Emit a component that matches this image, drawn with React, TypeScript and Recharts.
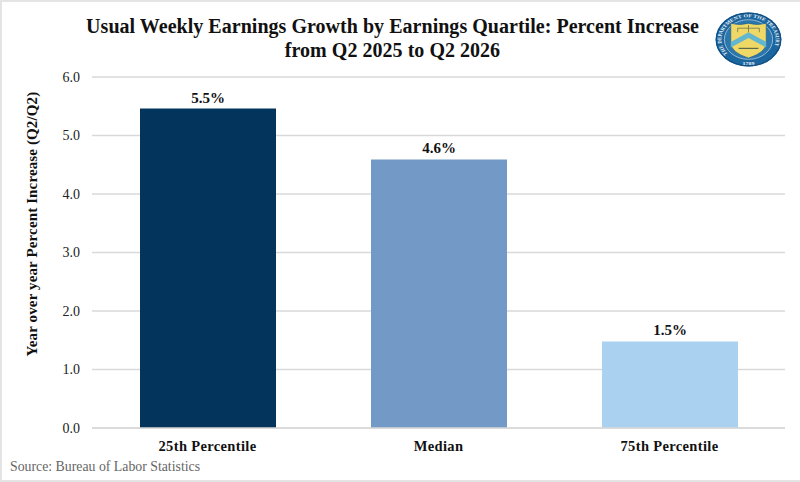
import { BarChart, Bar, Cell, CartesianGrid, LabelList, XAxis, YAxis } from "recharts";

const categories = ["25th Percentile", "Median", "75th Percentile"];
const growth = [5.46, 4.59, 1.48];
const growthLabels = ["5.5%", "4.6%", "1.5%"];
const barColors = ["#03345c", "#7399c6", "#abd1f0"];
const yTicks = [0, 1, 2, 3, 4, 5, 6];

const data = categories.map((name, i) => ({ name, growth: growth[i], label: growthLabels[i] }));

const serif = "'Liberation Serif', serif";

function TreasurySeal() {
    return (
        <svg width="67" height="55" viewBox="0 0 68 68" preserveAspectRatio="none" style={{ position: "absolute", left: 715, top: 11.5 }}>
            <defs>
                <path id="sealRing" d="M 12.9 51.7 A 27.5 27.5 0 1 1 55.1 51.7" />
            </defs>
            <circle cx="34" cy="34" r="33.5" fill="#1c66a0" />
            <circle cx="34" cy="34" r="32.5" fill="none" stroke="#114f82" strokeWidth="1.5" />
            <circle cx="34" cy="34" r="24.5" fill="#2a76ad" stroke="#d5e4ee" strokeWidth="0.7" />
            <text fontFamily={serif} fontSize="5.8" fontWeight="bold" fill="#e8f0f5" letterSpacing="0.1">
                <textPath href="#sealRing">THE DEPARTMENT OF THE TREASURY</textPath>
            </text>
            <path d="M 16 14 Q 25 17 34 14 Q 43 17 52 14 L 52 38 Q 52 50 34 57 Q 16 50 16 38 Z" fill="#f0d866" stroke="#21618f" strokeWidth="0.8" />
            <path d="M 16 37 L 34 25 L 52 37 L 52 44 L 34 32 L 16 44 Z" fill="#62b6cf" />
            <path d="M 23 20 H 45 M 34 16 V 25 M 23 20 V 25 M 45 20 V 25" stroke="#5a6a4a" strokeWidth="0.8" fill="none" />
            <path d="M 24 45 H 44" stroke="#5a6a4a" strokeWidth="1.5" fill="none" />
            <text x="34" y="65" textAnchor="middle" fontFamily={serif} fontSize="6" fontWeight="bold" fill="#e8f0f5">1789</text>
        </svg>
    );
}

export default function App() {
    return (
        <div style={{ position: "absolute", left: 0, top: 0, width: 800, height: 482, background: "#ffffff", overflow: "hidden", fontFamily: serif }}>
            <div style={{ position: "absolute", inset: 0, border: "2px solid #e4e4e4", borderRight: "none", boxSizing: "border-box" }} />
            <BarChart
                width={800}
                height={482}
                data={data}
                margin={{ top: 77, right: 15, bottom: 0, left: 0 }}
                style={{ position: "absolute", left: 0, top: 0 }}
            >
                <CartesianGrid vertical={false} stroke="#d9d9d9" strokeWidth={1.5} />
                <XAxis
                    dataKey="name"
                    height={54}
                    axisLine={{ stroke: "#d9d9d9", strokeWidth: 1.5 }}
                    tickLine={false}
                    interval={0}
                    tick={{ fontFamily: serif, fontSize: 14.5, fontWeight: "bold", fill: "#111111", letterSpacing: 0.35 }}
                    tickMargin={7}
                />
                <YAxis
                    width={92}
                    domain={[0, 6]}
                    ticks={yTicks}
                    axisLine={false}
                    tickLine={false}
                    tickFormatter={(v: number) => v.toFixed(1)}
                    tick={{ fontFamily: serif, fontSize: 14, fill: "#222222" }}
                    tickMargin={6}
                    label={{
                        value: "Year over year Percent Increase (Q2/Q2)",
                        angle: -90,
                        position: "insideLeft",
                        offset: 32,
                        dy: 104,
                        style: { fontFamily: serif, fontSize: 15, fontWeight: "bold", fill: "#111111", letterSpacing: 0.13 },
                    }}
                />
                <Bar dataKey="growth" barSize={136} isAnimationActive={false}>
                    {data.map((d, i) => (
                        <Cell key={d.name} fill={barColors[i]} />
                    ))}
                    <LabelList
                        dataKey="label"
                        position="top"
                        offset={6}
                        style={{ fontFamily: serif, fontSize: 15, fontWeight: "bold", fill: "#111111" }}
                    />
                </Bar>
            </BarChart>
            <div style={{ position: "absolute", left: 0, top: 15, width: 785, textAlign: "center", fontSize: 20, lineHeight: "23.5px", fontWeight: "bold", color: "#111111", letterSpacing: 0.03 }}>
                Usual Weekly Earnings Growth by Earnings Quartile: Percent Increase
                <br />
                from Q2 2025 to Q2 2026
            </div>
            <div style={{ position: "absolute", left: 10, top: 459, fontSize: 13.8, color: "#666666" }}>
                Source: Bureau of Labor Statistics
            </div>
            <TreasurySeal />
        </div>
    );
}
